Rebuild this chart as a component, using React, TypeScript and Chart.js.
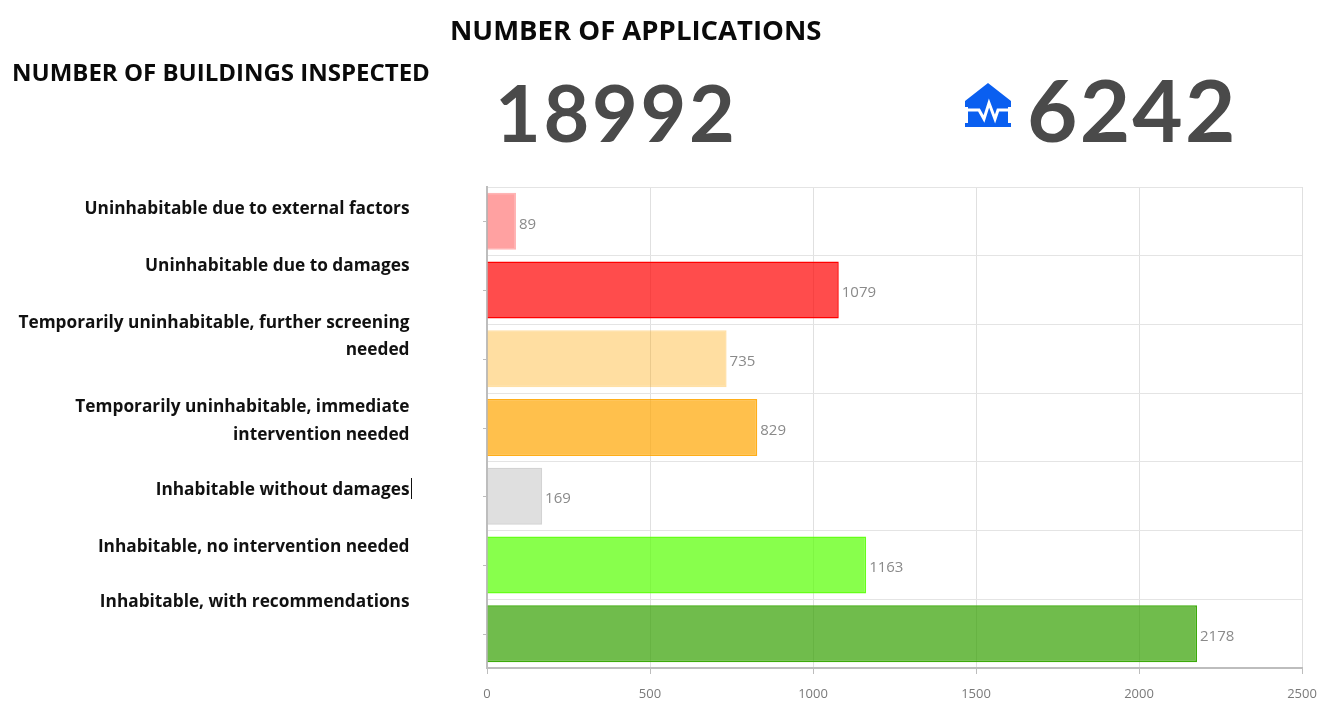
import React, { useEffect, useRef } from "react";
import { Chart, registerables } from "chart.js";

Chart.register(...registerables);

const categories = [
  "Uninhabitable due to external factors",
  "Uninhabitable due to damages",
  "Temporarily uninhabitable, further screening needed",
  "Temporarily uninhabitable, immediate intervention needed",
  "Inhabitable without damages",
  "Inhabitable, no intervention needed",
  "Inhabitable, with recommendations",
];
const values = [89, 1079, 735, 829, 169, 1163, 2178];
const fills = [
  "rgba(255,0,0,0.37)",
  "rgba(255,0,0,0.7)",
  "rgba(255,165,0,0.37)",
  "rgba(255,165,0,0.7)",
  "rgba(192,192,192,0.5)",
  "rgba(85,255,0,0.7)",
  "rgba(51,160,0,0.7)",
];
const borders = [
  "rgba(255,90,90,0.45)",
  "rgba(255,0,0,1)",
  "rgba(255,165,0,0.35)",
  "rgba(255,165,0,0.9)",
  "rgba(192,192,192,0.7)",
  "rgba(85,255,0,0.9)",
  "rgba(60,170,10,1)",
];
const labelLines: [string, number][][] = [
  [["Uninhabitable due to external factors", 207]],
  [["Uninhabitable due to damages", 264]],
  [["Temporarily uninhabitable, further screening", 321], ["needed", 348]],
  [["Temporarily uninhabitable, immediate", 405], ["intervention needed", 433]],
  [["Inhabitable without damages", 488]],
  [["Inhabitable, no intervention needed", 545]],
  [["Inhabitable, with recommendations", 600]],
];
const headingFont = "'Open Sans', sans-serif";

const extras = {
  id: "extras",
  afterDatasetsDraw(chart: any) {
    const { ctx, scales } = chart;
    const meta = chart.getDatasetMeta(0);
    ctx.save();
    ctx.font = "15px 'Open Sans', sans-serif";
    ctx.fillStyle = "#8a8a8a";
    ctx.textBaseline = "middle";
    meta.data.forEach((bar: any, i: number) => {
      ctx.fillText(String(values[i]), bar.x + 3, bar.y + 3);
    });
    ctx.strokeStyle = "#bdbdbd";
    ctx.lineWidth = 1;
    categories.forEach((_, i) => {
      const y = Math.round(scales.y.getPixelForValue(i)) + 0.5;
      ctx.beginPath();
      ctx.moveTo(scales.x.left - 4, y);
      ctx.lineTo(scales.x.left, y);
      ctx.stroke();
    });
    ctx.restore();
  },
};

export default function App() {
  const ref = useRef<HTMLCanvasElement>(null);
  useEffect(() => {
    const chart = new Chart(ref.current!, {
      type: "bar",
      data: {
        labels: categories,
        datasets: [
          {
            data: values,
            backgroundColor: fills,
            borderColor: borders,
            borderWidth: 1.5,
            barPercentage: 0.83,
            categoryPercentage: 1,
          },
        ],
      },
      options: {
        indexAxis: "y",
        animation: false,
        responsive: false,
        layout: { padding: { left: 487, right: 17, top: 187, bottom: 0 } },
        plugins: { legend: { display: false }, tooltip: { enabled: false } },
        scales: {
          x: {
            min: 0,
            max: 2500,
            afterFit(s: any) {
              s.height = 34;
              s.paddingLeft = 0;
              s.paddingRight = 0;
            },
            ticks: {
              stepSize: 500,
              maxRotation: 0,
              padding: 12,
              color: "#7a7a7a",
              font: { family: "'Open Sans', sans-serif", size: 13 },
              callback: (v: any) => String(v),
            },
            grid: { color: "#e0e0e0", tickColor: "#bdbdbd", tickLength: 6 },
            border: { color: "#bdbdbd", width: 2 },
          },
          y: {
            afterFit(s: any) {
              s.width = 0;
            },
            ticks: { display: false },
            grid: { color: "#e4e4e4", tickLength: 0, offset: true },
            border: { color: "#bdbdbd", width: 2 },
          },
        },
      } as any,
      plugins: [extras],
    });
    return () => chart.destroy();
  }, []);

  const abs: React.CSSProperties = { position: "absolute", whiteSpace: "nowrap" };
  return (
    <div style={{ position: "absolute", left: 0, top: 0, width: 1319, height: 702, overflow: "hidden", background: "#fff" }}>
      <canvas ref={ref} width={1319} height={702} style={{ position: "absolute", left: 0, top: 0, display: "block" }} />
      <div style={{ ...abs, left: 450, top: 29, transform: "translateY(-50%)", font: `700 27.5px ${headingFont}`, color: "#0a0a0a" }}>NUMBER OF APPLICATIONS</div>
      <div style={{ ...abs, left: 12, top: 71, transform: "translateY(-50%)", font: `700 24px ${headingFont}`, color: "#0a0a0a" }}>NUMBER OF BUILDINGS INSPECTED</div>
      <div style={{ ...abs, left: 495, top: 111, transform: "translateY(-50%)", font: "700 79px Lato, sans-serif", letterSpacing: 2.7, color: "#4a4a4a" }}>18992</div>
      <div style={{ ...abs, left: 1027, top: 108, transform: "translateY(-50%)", font: "700 87px Lato, sans-serif", letterSpacing: 2.2, color: "#4a4a4a" }}>6242</div>
      <svg style={{ position: "absolute", left: 964, top: 82 }} width="48" height="48" viewBox="0 0 48 48">
        <path d="M24 1 L47 19 L47 25 L44 25 L44 41 L47 41 L47 45 L1 45 L1 41 L4 41 L4 25 L1 25 L1 19 Z" fill="#0a5ff0" />
        <path d="M4 28 L15 28 L20 37 L25 21 L31 37 L34 28 L44 28" fill="none" stroke="#fff" strokeWidth="3" />
      </svg>
      {labelLines.flat().map(([text, y]) => (
        <div key={text} style={{ ...abs, right: 1319 - 409.5, top: y, transform: "translateY(-50%)", font: `700 17.25px ${headingFont}`, color: "#111" }}>
          {text}
        </div>
      ))}
      <div style={{ position: "absolute", left: 411, top: 478, width: 1, height: 21, background: "#111" }} />
    </div>
  );
}
